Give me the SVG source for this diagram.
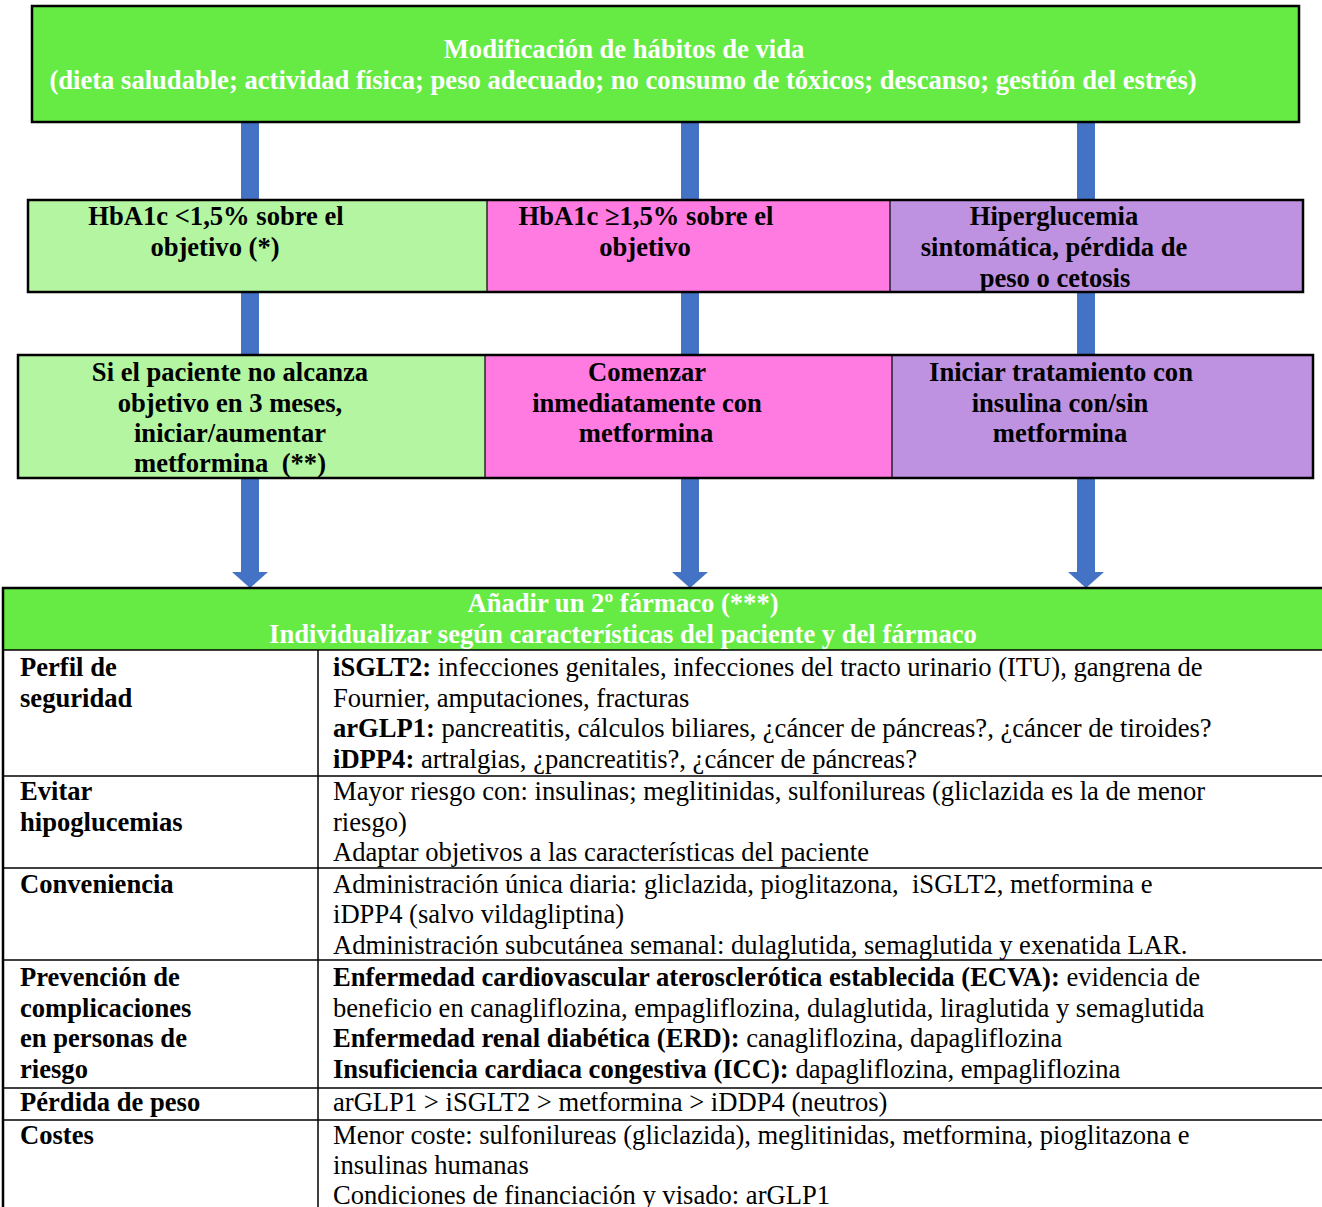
<svg xmlns="http://www.w3.org/2000/svg" width="1322" height="1207" viewBox="0 0 1322 1207">
<style>
text{font-family:"Liberation Serif","Times New Roman",serif;font-size:26.6px;fill:#000}
.b{font-weight:bold}
.w{fill:#fff;font-weight:bold}
.c{text-anchor:middle}
.g{fill:#66EB44}
.lg{fill:#B3F5A0}
.pk{fill:#FF7BE1}
.pu{fill:#BE92E0}
.ol{fill:none;stroke:#000;stroke-width:2.5}
.il{stroke:#000;stroke-width:1.2}
.tl{stroke:#000;stroke-width:1.5}
.sh{fill:#4472C4}
</style>
<rect width="1322" height="1207" fill="#fff"/>
<g id="connectors">
<rect class="sh" x="241" y="122" width="18" height="78"/>
<rect class="sh" x="681" y="122" width="18" height="78"/>
<rect class="sh" x="1077" y="122" width="18" height="78"/>
<rect class="sh" x="241" y="292" width="18" height="63"/>
<rect class="sh" x="681" y="292" width="18" height="63"/>
<rect class="sh" x="1077" y="292" width="18" height="63"/>
<path class="sh" d="M241 479H259V572H268L250 588L232 572H241Z"/>
<path class="sh" d="M681 479H699V572H708L690 588L672 572H681Z"/>
<path class="sh" d="M1077 479H1095V572H1104L1086 588L1068 572H1077Z"/>
</g>
<g id="n-habitos">
<rect class="g" x="32" y="6" width="1267" height="116"/>
<rect class="ol" x="32" y="6" width="1267" height="116"/>
<text class="w c" x="624" y="58">Modificación de hábitos de vida</text>
<text class="w c" x="623" y="89">(dieta saludable; actividad física; peso adecuado; no consumo de tóxicos; descanso; gestión del estrés)</text>
</g>
<g id="n-row2">
<rect class="lg" x="28" y="200" width="459" height="92"/>
<rect class="pk" x="487" y="200" width="403" height="92"/>
<rect class="pu" x="890" y="200" width="413" height="92"/>
<line class="il" x1="487" y1="200" x2="487" y2="292"/>
<line class="il" x1="890" y1="200" x2="890" y2="292"/>
<rect class="ol" x="28" y="200" width="1275" height="92"/>
</g>
<g id="n-hba1c-menor">
<text class="b c" x="216" y="225">HbA1c &lt;1,5% sobre el</text>
<text class="b c" x="215" y="256">objetivo (*)</text>
</g>
<g id="n-hba1c-mayor">
<text class="b c" x="646" y="225">HbA1c ≥1,5% sobre el</text>
<text class="b c" x="645" y="256">objetivo</text>
</g>
<g id="n-hiperglucemia">
<text class="b c" x="1054" y="225">Hiperglucemia</text>
<text class="b c" x="1054" y="256">sintomática, pérdida de</text>
<text class="b c" x="1055" y="287">peso o cetosis</text>
</g>
<g id="n-row3">
<rect class="lg" x="18" y="355" width="467" height="123"/>
<rect class="pk" x="485" y="355" width="407" height="123"/>
<rect class="pu" x="892" y="355" width="421" height="123"/>
<line class="il" x1="485" y1="355" x2="485" y2="478"/>
<line class="il" x1="892" y1="355" x2="892" y2="478"/>
<rect class="ol" x="18" y="355" width="1295" height="123"/>
</g>
<g id="n-si-paciente">
<text class="b c" x="230" y="381">Si el paciente no alcanza</text>
<text class="b c" x="230" y="412">objetivo en 3 meses,</text>
<text class="b c" x="230" y="442">iniciar/aumentar</text>
<text class="b c" x="230" y="472" xml:space="preserve">metformina  (**)</text>
</g>
<g id="n-comenzar">
<text class="b c" x="647" y="381">Comenzar</text>
<text class="b c" x="647" y="412">inmediatamente con</text>
<text class="b c" x="646" y="442">metformina</text>
</g>
<g id="n-iniciar">
<text class="b c" x="1061" y="381">Iniciar tratamiento con</text>
<text class="b c" x="1060" y="412">insulina con/sin</text>
<text class="b c" x="1060" y="442">metformina</text>
</g>
<g id="n-tabla">
<rect class="g" x="3" y="588" width="1325" height="62"/>
<text class="w c" x="623" y="612">Añadir un 2º fármaco (***)</text>
<text class="w c" x="623" y="643">Individualizar según características del paciente y del fármaco</text>
<line class="tl" x1="3" y1="650" x2="1322" y2="650"/>
<line class="tl" x1="3" y1="776" x2="1322" y2="776"/>
<line class="tl" x1="3" y1="868" x2="1322" y2="868"/>
<line class="tl" x1="3" y1="960" x2="1322" y2="960"/>
<line class="tl" x1="3" y1="1088" x2="1322" y2="1088"/>
<line class="tl" x1="3" y1="1120" x2="1322" y2="1120"/>
<line class="tl" x1="318" y1="650" x2="318" y2="1207"/>
<rect class="ol" x="3" y="588" width="1325" height="630"/>
<text class="b" x="20" y="676">Perfil de</text>
<text class="b" x="20" y="707">seguridad</text>
<text x="333" y="676"><tspan class="b">iSGLT2:</tspan> infecciones genitales, infecciones del tracto urinario (ITU), gangrena de</text>
<text x="333" y="707">Fournier, amputaciones, fracturas</text>
<text x="333" y="737"><tspan class="b">arGLP1:</tspan> pancreatitis, cálculos biliares, ¿cáncer de páncreas?, ¿cáncer de tiroides?</text>
<text x="333" y="768"><tspan class="b">iDPP4:</tspan> artralgias, ¿pancreatitis?, ¿cáncer de páncreas?</text>
<text class="b" x="20" y="800">Evitar</text>
<text class="b" x="20" y="831">hipoglucemias</text>
<text x="333" y="800">Mayor riesgo con: insulinas; meglitinidas, sulfonilureas (gliclazida es la de menor</text>
<text x="333" y="831">riesgo)</text>
<text x="333" y="861">Adaptar objetivos a las características del paciente</text>
<text class="b" x="20" y="893">Conveniencia</text>
<text x="333" y="893" xml:space="preserve">Administración única diaria: gliclazida, pioglitazona,  iSGLT2, metformina e</text>
<text x="333" y="923">iDPP4 (salvo vildagliptina)</text>
<text x="333" y="954">Administración subcutánea semanal: dulaglutida, semaglutida y exenatida LAR.</text>
<text class="b" x="20" y="986">Prevención de</text>
<text class="b" x="20" y="1017">complicaciones</text>
<text class="b" x="20" y="1047">en personas de</text>
<text class="b" x="20" y="1078">riesgo</text>
<text x="333" y="986"><tspan class="b">Enfermedad cardiovascular aterosclerótica establecida (ECVA):</tspan> evidencia de</text>
<text x="333" y="1017">beneficio en canagliflozina, empagliflozina, dulaglutida, liraglutida y semaglutida</text>
<text x="333" y="1047"><tspan class="b">Enfermedad renal diabética (ERD):</tspan> canagliflozina, dapagliflozina</text>
<text x="333" y="1078"><tspan class="b">Insuficiencia cardiaca congestiva (ICC):</tspan> dapagliflozina, empagliflozina</text>
<text class="b" x="20" y="1111">Pérdida de peso</text>
<text x="333" y="1111">arGLP1 &gt; iSGLT2 &gt; metformina &gt; iDDP4 (neutros)</text>
<text class="b" x="20" y="1144">Costes</text>
<text x="333" y="1144">Menor coste: sulfonilureas (gliclazida), meglitinidas, metformina, pioglitazona e</text>
<text x="333" y="1174">insulinas humanas</text>
<text x="333" y="1204">Condiciones de financiación y visado: arGLP1</text>
</g>
</svg>
